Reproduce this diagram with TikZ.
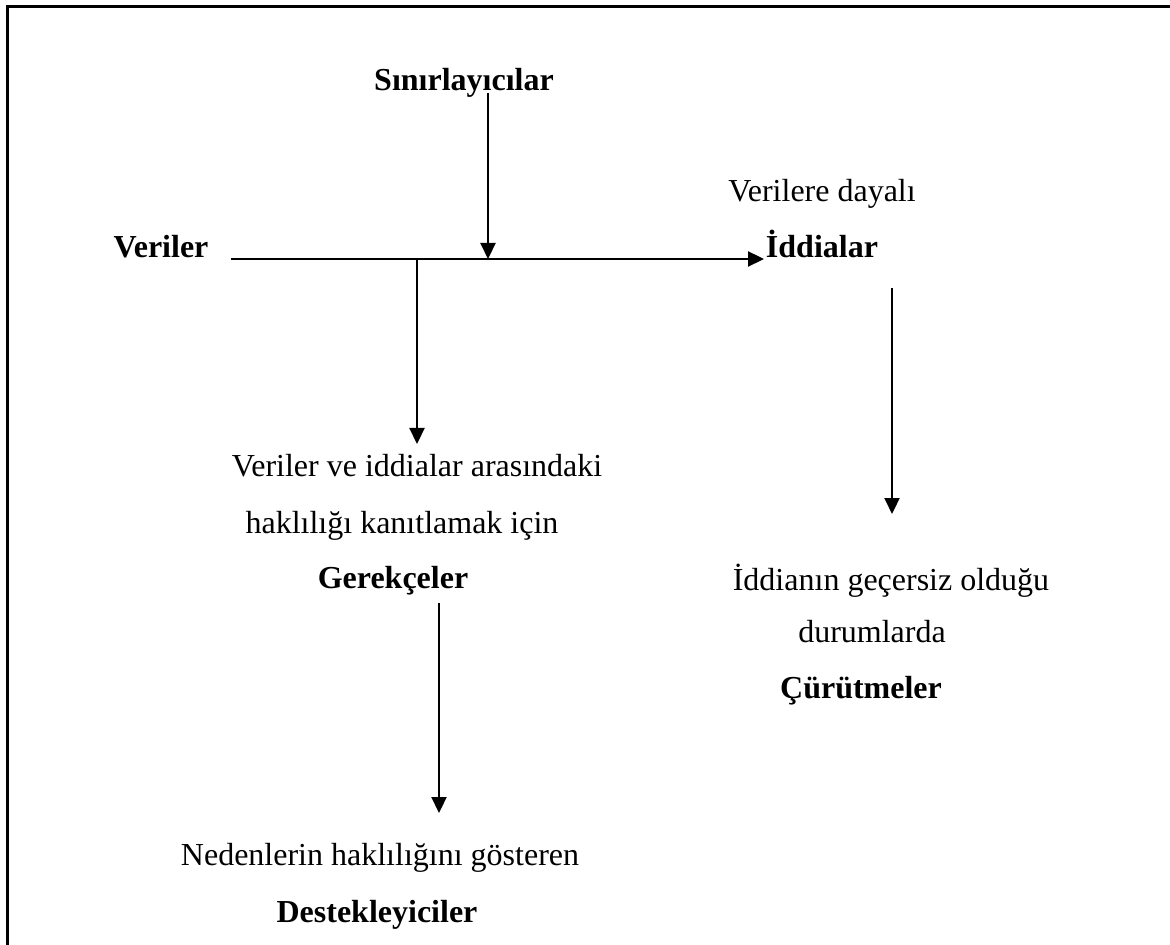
\documentclass[tikz,border=0pt]{standalone}
\usepackage{fontspec}
\setmainfont{Liberation Serif}
\usetikzlibrary{arrows.meta}
\begin{document}
\begin{tikzpicture}[x=0.5pt,y=-0.5pt,
  txt/.style={anchor=base,inner sep=0pt,font=\fontsize{16}{18}\selectfont},
  bold/.style={txt,font=\fontsize{16}{18}\selectfont\bfseries},
  arr/.style={line width=1.1pt,-{Triangle[length=8pt,width=7.5pt]}},
  frame/.style={line width=1.5pt}]
\useasboundingbox (0,0) rectangle (1170,945);
% open frame: top and left edges only
\draw[frame] (7,945) -- (7,7) -- (1170,7);

% labels
\node[bold] (sinir) at (464,91) {Sınırlayıcılar};
\node[bold] (veriler) at (161,258) {Veriler};
\node[txt] (dayali) at (822,202) {Verilere dayalı};
\node[bold] (iddia) at (822,258) {İddialar};
\node[txt] (ger1) at (417,477) {Veriler ve iddialar arasındaki};
\node[txt] (ger2) at (402,533) {haklılığı kanıtlamak için};
\node[bold] (ger) at (393,588) {Gerekçeler};
\node[txt] (dest1) at (380,865) {Nedenlerin haklılığını gösteren};
\node[bold] (dest) at (377,922) {Destekleyiciler};
\node[txt] (cur1) at (891,590) {İddianın geçersiz olduğu};
\node[txt] (cur2) at (872,642) {durumlarda};
\node[bold] (cur) at (861,698) {Çürütmeler};

% connector end points
\coordinate (hStart) at (231,259);
\coordinate (hEnd) at (764,259);
\coordinate (qTop) at (488,93);
\coordinate (qEnd) at (488,259);
\coordinate (wTop) at (417,259);
\coordinate (wEnd) at (417,444);
\coordinate (bTop) at (439,603);
\coordinate (bEnd) at (439,813);
\coordinate (rTop) at (892,288);
\coordinate (rEnd) at (892,514);

% connectors
\draw[arr] (hStart) -- (hEnd);
\draw[arr] (qTop) -- (qEnd);
\draw[arr] (wTop) -- (wEnd);
\draw[arr] (bTop) -- (bEnd);
\draw[arr] (rTop) -- (rEnd);
\end{tikzpicture}
\end{document}
